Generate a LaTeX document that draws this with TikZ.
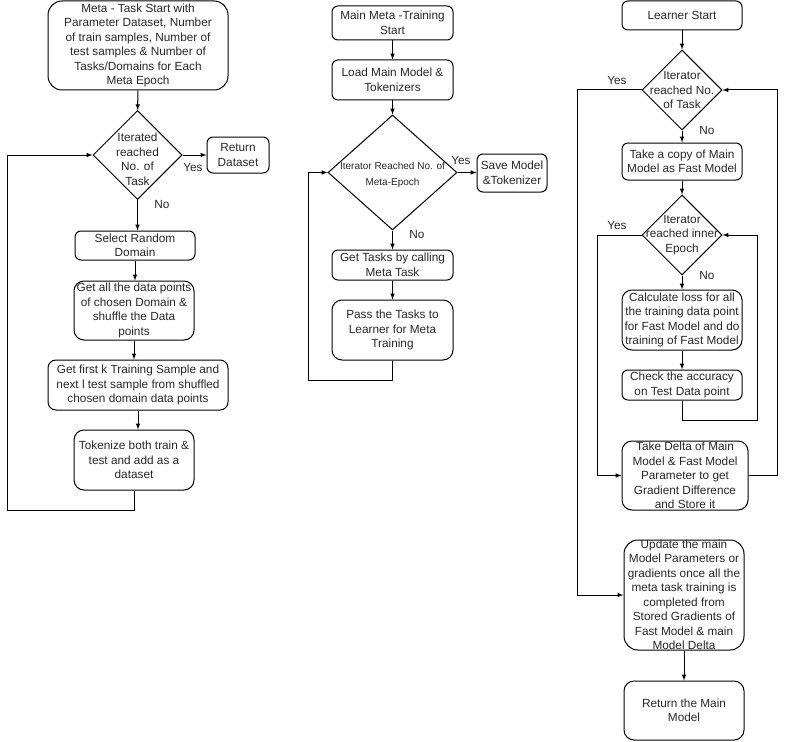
\documentclass[tikz,border=0pt]{standalone}
\usepackage{fontspec}
\setmainfont{Liberation Sans}
\usetikzlibrary{shapes.geometric}

\begin{document}
\begin{tikzpicture}[x=1pt,y=-1pt,>=latex,line width=1pt]

     \tikzstyle{box}=[rectangle,rounded corners=6pt,draw=black,align=center,inner sep=1pt,font=\fontsize{11.8}{14.5}\selectfont,text=black!85]
     \tikzstyle{decision}=[diamond,draw=black,inner sep=0pt]
     \tikzstyle{dtext}=[align=center,inner sep=0pt,font=\fontsize{11.8}{14.5}\selectfont,text=black!85]
     \tikzstyle{lab}=[inner sep=0pt,font=\fontsize{11.8}{14.5}\selectfont,text=black!85]

      \useasboundingbox (0,0) rectangle (786,741);

      \begin{scope}
         \node[box,rounded corners=14pt,minimum width=180,minimum height=89] (mt0) at (138,45.5) {Meta - Task Start with\\Parameter Dataset, Number\\of train samples, Number of\\test samples \& Number of\\Tasks/Domains for Each\\Meta Epoch};
         \node[decision,minimum width=89,minimum height=89] (mt1) at (137.5,155) {};
         \node[dtext] (mt1t) at (137.5,159.5) {Iterated\\reached\\No. of\\Task};
         \node[box,minimum width=62,minimum height=36] (mt2) at (238,155) {Return\\Dataset};
         \node[box,minimum width=120,minimum height=29] (mt3) at (135,245.5) {Select Random\\Domain};
         \node[box,rounded corners=10pt,minimum width=120,minimum height=59] (mt4) at (134,310.5) {Get all the data points\\of chosen Domain \&\\shuffle the Data\\points};
         \node[box,rounded corners=8pt,minimum width=180,minimum height=50] (mt5) at (138,385) {Get first k Training Sample and\\next l test sample from shuffled\\chosen domain data points};
         \node[box,rounded corners=10pt,minimum width=120,minimum height=60] (mt6) at (134,460) {Tokenize both train \&\\test and add as a\\dataset};

         \node[lab] (mtyes) at (193,167) {Yes};
         \node[lab] (mtno) at (162,204) {No};

         \coordinate (mtloop1) at (134,510);
         \coordinate (mtloop2) at (7,155);

         \draw[->] (mt0) to (mt1);
         \draw[->] (mt1) to (mt2);
         \draw[->] (mt1.south) to (mt1.south |- mt3.north);
         \draw[->] (mt3.south) to (mt3.south |- mt4.north);
         \draw[->] (mt4.south) to (mt4.south |- mt5.north);
         \draw[->] (mt5.south) to (mt5.south |- mt6.north);
         \draw[->] (mt6.south) -- (mtloop1) -| (mtloop2) -- (mt1.west);
      \end{scope}

      \begin{scope}
         \node[box,minimum width=121,minimum height=34] (tr0) at (392.5,23) {Main Meta -Training\\Start};
         \node[box,minimum width=121,minimum height=40] (tr1) at (392.5,80) {Load Main Model \&\\Tokenizers};
         \node[decision,minimum width=129,minimum height=115] (tr2) at (392.5,172.5) {};
         \node[dtext,font=\fontsize{10}{16}\selectfont] (tr2t) at (392.5,175) {Iterator Reached No. of\\Meta-Epoch};
         \node[box,minimum width=70,minimum height=38] (tr3) at (512,173) {Save Model\\\&Tokenizer};
         \node[box,minimum width=121,minimum height=30] (tr4) at (392.5,265) {Get Tasks by calling\\Meta Task};
         \node[box,rounded corners=10pt,minimum width=121,minimum height=60] (tr5) at (392.5,330) {Pass the Tasks to\\Learner for Meta\\Training};

         \node[lab] (tryes) at (461,160) {Yes};
         \node[lab] (trno) at (417,234) {No};

         \coordinate (trloop1) at (392.5,380);
         \coordinate (trloop2) at (308,172.5);

         \draw[->] (tr0) to (tr1);
         \draw[->] (tr1) to (tr2);
         \draw[->] (tr2.east) to (tr3.west |- tr2.east);
         \draw[->] (tr2) to (tr4);
         \draw[->] (tr4) to (tr5);
         \draw[->] (tr5.south) -- (trloop1) -| (trloop2) -- (tr2.west);
      \end{scope}

      \begin{scope}
         \node[box,minimum width=120,minimum height=29] (ln0) at (682,15.5) {Learner Start};
         \node[decision,minimum width=80,minimum height=80] (ln1) at (682,90) {};
         \node[dtext] (ln1t) at (682,90) {Iterator\\reached No.\\of Task};
         \node[box,minimum width=120,minimum height=37] (ln2) at (682,161.5) {Take a copy of Main\\Model as Fast Model};
         \node[decision,minimum width=80,minimum height=80] (ln3) at (682,235) {};
         \node[dtext] (ln3t) at (682,235) {Iterator\\reached inner\\Epoch};
         \node[box,rounded corners=10pt,minimum width=120,minimum height=60] (ln4) at (682,320) {Calculate loss for all\\the training data point\\for Fast Model and do\\training of Fast Model};
         \node[box,minimum width=120,minimum height=30] (ln5) at (682,385) {Check the accuracy\\on Test Data point};
         \node[box,rounded corners=10pt,minimum width=126,minimum height=69] (ln6) at (685,475.5) {Take Delta of Main\\Model \& Fast Model\\Parameter to get\\Gradient Difference\\and Store it};
         \node[box,rounded corners=14pt,inner ysep=-3pt,minimum width=120,minimum height=110] (ln7) at (684,595) {Update the main\\Model Parameters or\\gradients once all the\\meta task training is\\completed from\\Stored Gradients of\\Fast Model \& main\\Model Delta};
         \node[box,rounded corners=10pt,minimum width=120,minimum height=59] (ln8) at (684,710.5) {Return the Main\\Model};

         \node[lab] (lnyes1) at (617,80) {Yes};
         \node[lab] (lnno1) at (707,130) {No};
         \node[lab] (lnyes2) at (617,225) {Yes};
         \node[lab] (lnno2) at (707,275) {No};

         \coordinate (lnloop1) at (757,420);
         \coordinate (lnloop2) at (597,235);
         \coordinate (lnloop3) at (777,475.5);
         \coordinate (lnloop4) at (577,90);

         \draw[->] (ln0) to (ln1);
         \draw[->] (ln1) to (ln2);
         \draw[->] (ln2) to (ln3);
         \draw[->] (ln3) to (ln4);
         \draw[->] (ln4) to (ln5);
         \draw[->] (ln5.south) |- (lnloop1) |- (ln3.east);
         \draw[->] (ln3.west) -- (lnloop2) |- (ln6.west);
         \draw[->] (ln6.east) -- (lnloop3) |- (ln1.east);
         \draw[->] (ln1.west) -- (lnloop4) |- (ln7.west);
         \draw[->] (ln7.south) to (ln7.south |- ln8.north);
      \end{scope}
  \end{tikzpicture}
\end{document}
